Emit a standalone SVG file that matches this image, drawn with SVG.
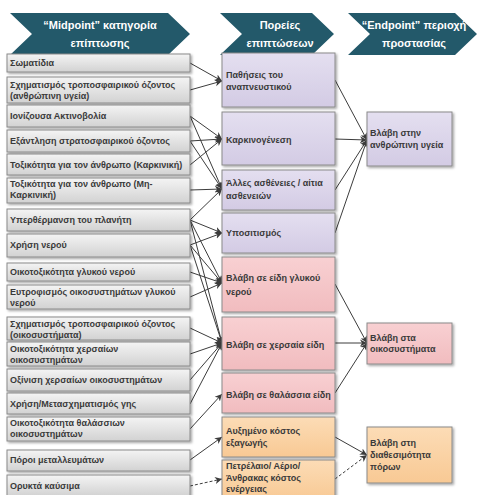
<svg xmlns="http://www.w3.org/2000/svg" width="478" height="495" viewBox="0 0 478 495">
<defs>
<style>
.hd{fill:#23596a}
.ht{fill:#ffffff;font-family:"Liberation Sans",Arial,sans-serif;font-weight:bold;font-size:11px;text-anchor:middle}
.bx{stroke:#8a8a8a;stroke-width:1;filter:url(#sh)}
.g{fill:url(#gg)}
.p{fill:url(#gp)}
.r{fill:url(#gr)}
.o{fill:url(#go)}
.lt{fill:#3a3a3a;font-family:"Liberation Sans",Arial,sans-serif;font-weight:bold;font-size:9px}
.mt{fill:#3a3a3a;font-family:"Liberation Sans",Arial,sans-serif;font-weight:bold;font-size:9px}
.c{stroke:#3c3c3c;stroke-width:1;fill:none;marker-end:url(#ah)}
.d{stroke:#3c3c3c;stroke-width:1;fill:none;stroke-dasharray:3 2;marker-end:url(#ah)}
</style>
<linearGradient id="gg" x1="0" y1="0" x2="0" y2="1"><stop offset="0" stop-color="#f4f4f4"/><stop offset="1" stop-color="#d2d2d2"/></linearGradient>
<linearGradient id="gp" x1="0" y1="0" x2="0" y2="1"><stop offset="0" stop-color="#e4dff0"/><stop offset="1" stop-color="#d3cbe4"/></linearGradient>
<linearGradient id="gr" x1="0" y1="0" x2="0" y2="1"><stop offset="0" stop-color="#f8d0d2"/><stop offset="1" stop-color="#f1bcbf"/></linearGradient>
<linearGradient id="go" x1="0" y1="0" x2="0" y2="1"><stop offset="0" stop-color="#fcdcb6"/><stop offset="1" stop-color="#f8c994"/></linearGradient>
<filter id="sh" x="-10%" y="-20%" width="130%" height="160%"><feDropShadow dx="1.5" dy="1.5" stdDeviation="1" flood-color="#000" flood-opacity="0.35"/></filter>
<marker id="ah" markerUnits="userSpaceOnUse" markerWidth="8" markerHeight="8" refX="7" refY="4" orient="auto"><path d="M0,0.5 L7,4 L0,7.5 L2,4 Z" fill="#3c3c3c"/></marker>
</defs>

<g id="headers">
<g id="h1"><polygon class="hd" points="10,13 168,13 190,34 168,55 10,55 32,34"/><text class="ht" x="100" y="29">“Midpoint” κατηγορία</text><text class="ht" x="100" y="47">επίπτωσης</text></g>
<g id="h2"><polygon class="hd" points="220,13 312,13 334,34 312,55 220,55 242,34"/><text class="ht" x="280" y="29">Πορείες</text><text class="ht" x="280" y="47">επιπτώσεων</text></g>
<g id="h3"><polygon class="hd" points="348,13 455,13 477,34 455,55 348,55 370,34"/><text class="ht" x="414" y="29">“Endpoint” περιοχή</text><text class="ht" x="414" y="47">προστασίας</text></g>
</g>

<g id="connectors">
<line class="c" x1="190" y1="63" x2="222" y2="81"/>
<line class="c" x1="190" y1="90" x2="222" y2="81"/>
<line class="c" x1="190" y1="116" x2="222" y2="139"/>
<line class="c" x1="190" y1="116" x2="222" y2="189"/>
<line class="c" x1="190" y1="141" x2="222" y2="139"/>
<line class="c" x1="190" y1="141" x2="222" y2="189"/>
<line class="c" x1="190" y1="165" x2="222" y2="139"/>
<line class="c" x1="190" y1="190" x2="222" y2="189"/>
<line class="c" x1="190" y1="220" x2="222" y2="189"/>
<line class="c" x1="190" y1="220" x2="222" y2="233"/>
<line class="c" x1="190" y1="220" x2="222" y2="283"/>
<line class="c" x1="190" y1="220" x2="222" y2="343"/>
<line class="c" x1="190" y1="245" x2="222" y2="233"/>
<line class="c" x1="190" y1="245" x2="222" y2="283"/>
<line class="c" x1="190" y1="245" x2="222" y2="343"/>
<line class="c" x1="190" y1="272" x2="222" y2="283"/>
<line class="c" x1="190" y1="297" x2="222" y2="283"/>
<line class="c" x1="190" y1="328" x2="222" y2="343"/>
<line class="c" x1="190" y1="354" x2="222" y2="343"/>
<line class="c" x1="190" y1="380" x2="222" y2="343"/>
<line class="c" x1="190" y1="404" x2="222" y2="343"/>
<line class="c" x1="190" y1="429" x2="222" y2="394"/>
<line class="c" x1="190" y1="460" x2="222" y2="437"/>
<line class="d" x1="190" y1="486" x2="222" y2="479"/>
<line class="c" x1="335" y1="80" x2="367" y2="140"/>
<line class="c" x1="335" y1="139" x2="367" y2="140"/>
<line class="c" x1="335" y1="190" x2="367" y2="140"/>
<line class="c" x1="335" y1="233" x2="367" y2="140"/>
<line class="c" x1="335" y1="284" x2="367" y2="343"/>
<line class="c" x1="335" y1="343" x2="367" y2="343"/>
<line class="c" x1="335" y1="393" x2="367" y2="343"/>
<line class="c" x1="335" y1="437" x2="367" y2="455"/>
<line class="d" x1="335" y1="479" x2="367" y2="455"/>
</g>

<g id="midpoint">
<g id="l1"><rect class="bx g" x="7" y="54" width="183" height="18"/><text class="lt" x="10" y="66">Σωματίδια</text></g>
<g id="l2"><rect class="bx g" x="7" y="77" width="183" height="26"/><text class="lt" x="10" y="88">Σχηματισμός τροποσφαιρικού όζοντος</text><text class="lt" x="10" y="99">(ανθρώπινη υγεία)</text></g>
<g id="l3"><rect class="bx g" x="7" y="105" width="183" height="22"/><text class="lt" x="10" y="119">Ιονίζουσα Ακτινοβολία</text></g>
<g id="l4"><rect class="bx g" x="7" y="130" width="183" height="22"/><text class="lt" x="10" y="144">Εξάντληση στρατοσφαιρικού όζοντος</text></g>
<g id="l5"><rect class="bx g" x="7" y="154" width="183" height="21"/><text class="lt" x="10" y="168">Τοξικότητα για τον άνθρωπο (Καρκινική)</text></g>
<g id="l6"><rect class="bx g" x="7" y="178" width="183" height="25"/><text class="lt" x="10" y="187">Τοξικότητα για τον άνθρωπο (Μη-</text><text class="lt" x="10" y="198">Καρκινική)</text></g>
<g id="l7"><rect class="bx g" x="7" y="209" width="183" height="22"/><text class="lt" x="10" y="223">Υπερθέρμανση του πλανήτη</text></g>
<g id="l8"><rect class="bx g" x="7" y="234" width="183" height="23"/><text class="lt" x="10" y="248">Χρήση νερού</text></g>
<g id="l9"><rect class="bx g" x="7" y="263" width="183" height="18"/><text class="lt" x="10" y="275">Οικοτοξικότητα γλυκού νερού</text></g>
<g id="l10"><rect class="bx g" x="7" y="285" width="183" height="24"/><text class="lt" x="10" y="295">Ευτροφισμός οικοσυστημάτων γλυκού</text><text class="lt" x="10" y="306">νερού</text></g>
<g id="l11"><rect class="bx g" x="7" y="317" width="183" height="23"/><text class="lt" x="10" y="327">Σχηματισμός τροποσφαιρικού όζοντος</text><text class="lt" x="10" y="338">(οικοσυστήματα)</text></g>
<g id="l12"><rect class="bx g" x="7" y="342" width="183" height="24"/><text class="lt" x="10" y="352">Οικοτοξικότητα χερσαίων</text><text class="lt" x="10" y="363">οικοσυστημάτων</text></g>
<g id="l13"><rect class="bx g" x="7" y="369" width="183" height="22"/><text class="lt" x="10" y="383">Οξίνιση χερσαίων οικοσυστημάτων</text></g>
<g id="l14"><rect class="bx g" x="7" y="393" width="183" height="21"/><text class="lt" x="10" y="407">Χρήση/Μετασχηματισμός γης</text></g>
<g id="l15"><rect class="bx g" x="7" y="417" width="183" height="24"/><text class="lt" x="10" y="426">Οικοτοξικότητα θαλάσσιων</text><text class="lt" x="10" y="437">οικοσυστημάτων</text></g>
<g id="l16"><rect class="bx g" x="7" y="450" width="183" height="21"/><text class="lt" x="10" y="463">Πόροι  μεταλλευμάτων</text></g>
<g id="l17"><rect class="bx g" x="7" y="475" width="183" height="21"/><text class="lt" x="10" y="489">Ορυκτά καύσιμα</text></g>
</g>

<g id="pathways">
<g id="m1"><rect class="bx p" x="222" y="53" width="113" height="54"/><text class="mt" x="226" y="78">Παθήσεις του</text><text class="mt" x="226" y="90">αναπνευστικού</text></g>
<g id="m2"><rect class="bx p" x="222" y="112" width="113" height="53"/><text class="mt" x="226" y="143">Καρκινογένεση</text></g>
<g id="m3"><rect class="bx p" x="222" y="170" width="113" height="40"/><text class="mt" x="226" y="186">Άλλες ασθένειες / αίτια</text><text class="mt" x="226" y="199">ασθενειών</text></g>
<g id="m4"><rect class="bx p" x="222" y="213" width="113" height="40"/><text class="mt" x="226" y="236">Υποσιτισμός</text></g>
<g id="m5"><rect class="bx r" x="222" y="257" width="113" height="55"/><text class="mt" x="226" y="281">Βλάβη σε είδη γλυκού</text><text class="mt" x="226" y="295">νερού</text></g>
<g id="m6"><rect class="bx r" x="222" y="317" width="113" height="53"/><text class="mt" x="226" y="348">Βλάβη σε χερσαία είδη</text></g>
<g id="m7"><rect class="bx r" x="222" y="373" width="113" height="40"/><text class="mt" x="226" y="398">Βλάβη σε θαλάσσια είδη</text></g>
<g id="m8"><rect class="bx o" x="222" y="417" width="113" height="40"/><text class="mt" x="226" y="434">Αυξημένο κόστος</text><text class="mt" x="226" y="446">εξαγωγής</text></g>
<g id="m9"><rect class="bx o" x="222" y="460" width="113" height="40"/><text class="mt" x="226" y="469">Πετρέλαιο/ Αέριο/</text><text class="mt" x="226" y="481">Άνθρακας κόστος</text><text class="mt" x="226" y="492">ενέργειας</text></g>
</g>

<g id="endpoint">
<g id="r1"><rect class="bx p" x="367" y="112" width="85" height="54"/><text class="mt" x="370" y="136">Βλάβη στην</text><text class="mt" x="370" y="148">ανθρώπινη υγεία</text></g>
<g id="r2"><rect class="bx r" x="367" y="323" width="85" height="41"/><text class="mt" x="370" y="341">Βλάβη στα</text><text class="mt" x="370" y="352">οικοσυστήματα</text></g>
<g id="r3"><rect class="bx o" x="367" y="427" width="85" height="56"/><text class="mt" x="370" y="446">Βλάβη στη</text><text class="mt" x="370" y="458">διαθεσιμότητα</text><text class="mt" x="370" y="470">πόρων</text></g>
</g>
</svg>
